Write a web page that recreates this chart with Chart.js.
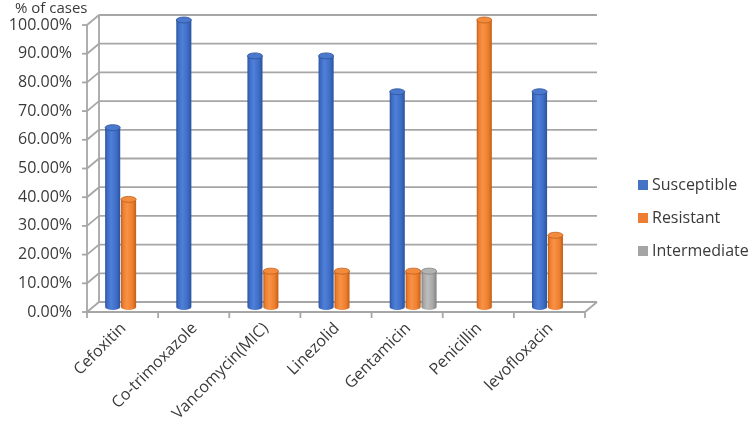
<!DOCTYPE html>
<html><head><meta charset="utf-8">
<style>html,body{margin:0;padding:0;background:#fff;}#wrap{width:750px;height:427px;position:relative}</style>
<script src="https://cdn.jsdelivr.net/npm/chart.js@4/dist/chart.umd.min.js"></script>
</head><body><div id="wrap"><canvas id="c" width="750" height="427"></canvas></div>
<script>
const categories = ['Cefoxitin','Co-trimoxazole','Vancomycin(MIC)','Linezolid','Gentamicin','Penicillin','levofloxacin'];
const susceptible = [62.5, 100, 87.5, 87.5, 75, null, 75];
const resistant = [37.5, null, 12.5, 12.5, 12.5, 100, 25];
const intermediate = [null, null, null, null, 12.5, null, null];
const seriesNames = ['Susceptible','Resistant','Intermediate'];
const yTickValues = [0,10,20,30,40,50,60,70,80,90,100];
const axisTitle = '% of cases';

const F = "'Open Sans', sans-serif";
const TXT = '#3A3A3A';
const CAT_PCT = 0.67, BAR_PCT = 0.95;
const DX = 6, DY = 5;
const palette = [
  {flat:'#4472C4', dark:'#2C539C', light:'#4F80D8', mid:'#3E6DC6', cap:'#4A78CC'},
  {flat:'#ED7D31', dark:'#C25E18', light:'#F79246', mid:'#EF7F2F', cap:'#F28B3E'},
  {flat:'#A5A5A5', dark:'#808080', light:'#BDBDBD', mid:'#A8A8A8', cap:'#B2B2B2'}
];

function barGeom(ch, di, ds) {
  const xs = ch.scales.x;
  const catW = xs.width / categories.length;
  const slot = catW * CAT_PCT / 3;
  const cx = xs.getPixelForValue(di) + (ds - 1) * slot;
  return {cx, w: slot * BAR_PCT};
}
function grad(ctx, p, cx, w) {
  const g = ctx.createLinearGradient(cx - w/2, 0, cx + w/2, 0);
  g.addColorStop(0, p.dark);
  g.addColorStop(0.15, p.mid);
  g.addColorStop(0.4, p.light);
  g.addColorStop(0.75, p.mid);
  g.addColorStop(1, p.dark);
  return g;
}
function cyl(k) {
  return (c) => {
    const ch = c.chart, p = palette[k];
    if (!ch.chartArea || c.type !== 'data') return p.flat;
    const {cx, w} = barGeom(ch, c.dataIndex, c.datasetIndex);
    return grad(ch.ctx, p, cx, w);
  };
}

function line(ctx, x1, y1, x2, y2) { ctx.beginPath(); ctx.moveTo(x1, y1); ctx.lineTo(x2, y2); ctx.stroke(); }

const wallPlugin = {
  id: 'wall',
  beforeDatasetsDraw(ch) {
    const {ctx, chartArea: a, scales: {x, y}} = ch;
    ctx.save();
    ctx.strokeStyle = '#A6A6A6';
    ctx.lineWidth = 1.8;
    const top = y.getPixelForValue(100), base = y.getPixelForValue(0);
    yTickValues.forEach(v => {
      const py = y.getPixelForValue(v);
      line(ctx, a.left - DX, py + DY, a.left + DX, py - DY);
      line(ctx, a.left + DX, py - DY, a.right + DX, py - DY);
      line(ctx, a.left - DX - 5, py + DY, a.left - DX, py + DY);
    });
    line(ctx, a.left + DX, top - DY, a.left + DX, base - DY);
    line(ctx, a.left - DX, top + DY, a.left - DX, base + DY);
    line(ctx, a.left - DX, base + DY, a.right - DX, base + DY);
    line(ctx, a.right - DX, base + DY, a.right + DX, base - DY);
    const catW = x.width / categories.length;
    for (let i = 0; i <= categories.length; i++) {
      const px = (i < categories.length ? x.getPixelForValue(i) - catW / 2 : x.getPixelForValue(i - 1) + catW / 2) - DX;
      line(ctx, px, base + DY, px, base + DY + 6);
    }
    ctx.restore();
  },
  afterDatasetsDraw(ch) {
    const ctx = ch.ctx;
    ctx.save();
    ch.data.datasets.forEach((ds, k) => {
      const meta = ch.getDatasetMeta(k);
      meta.data.forEach((el, i) => {
        if (ds.data[i] == null) return;
        const p = palette[k];
        const rx = el.width / 2, ry = 3;
        ctx.fillStyle = grad(ctx, p, el.x, el.width);
        ctx.beginPath(); ctx.ellipse(el.x, el.base, rx, ry, 0, 0, Math.PI); ctx.fill();
        ctx.fillStyle = p.cap;
        ctx.strokeStyle = p.dark;
        ctx.lineWidth = 0.8;
        ctx.beginPath(); ctx.ellipse(el.x, el.y, rx, ry, 0, 0, Math.PI * 2); ctx.fill(); ctx.stroke();
      });
    });
    ctx.restore();
  },
  afterDraw(ch) {
    const ctx = ch.ctx;
    ctx.save();
    ctx.textBaseline = 'middle';
    ctx.textAlign = 'left';
    ctx.fillStyle = TXT;
    ctx.font = '15px ' + F;
    ctx.fillText(axisTitle, 15, 9);
    ctx.font = '16px ' + F;
    const ys = [185, 218, 251];
    ch.data.datasets.forEach((ds, k) => {
      ctx.fillStyle = palette[k].flat;
      ctx.fillRect(638, ys[k] - 5, 10, 10);
      ctx.fillStyle = TXT;
      ctx.fillText(ds.label, 652, ys[k]);
    });
    ctx.restore();
  }
};

new Chart(document.getElementById('c'), {
  type: 'bar',
  data: {
    labels: categories,
    datasets: [
      {label: seriesNames[0], data: susceptible, backgroundColor: cyl(0)},
      {label: seriesNames[1], data: resistant, backgroundColor: cyl(1)},
      {label: seriesNames[2], data: intermediate, backgroundColor: cyl(2)}
    ]
  },
  options: {
    responsive: false,
    animation: false,
    devicePixelRatio: 1,
    categoryPercentage: CAT_PCT,
    barPercentage: BAR_PCT,
    layout: {padding: {left: 0, right: 159, top: 20, bottom: 0}},
    plugins: {
      legend: {display: false},
      tooltip: {enabled: false},
      title: {display: false}
    },
    scales: {
      x: {
        grid: {display: false, drawTicks: false}, border: {display: false},
        ticks: {maxRotation: 45, minRotation: 45, color: TXT, font: {family: F, size: 16}, padding: 12, labelOffset: -5, autoSkip: false},
        afterFit: s => { s.height = 120; s.paddingLeft = 0; s.paddingRight = 0; }
      },
      y: {
        min: 0, max: 100,
        grid: {display: false, drawTicks: false}, border: {display: false},
        afterBuildTicks: s => { s.ticks = yTickValues.map(v => ({value: v})); },
        ticks: {color: TXT, font: {family: F, size: 16}, padding: 21, labelOffset: 5,
          callback: v => Number(v).toFixed(2) + '%'},
        afterFit: s => { s.width = 93; s.paddingTop = 0; s.paddingBottom = 0; }
      }
    }
  },
  plugins: [wallPlugin]
});
</script>
</body></html>
